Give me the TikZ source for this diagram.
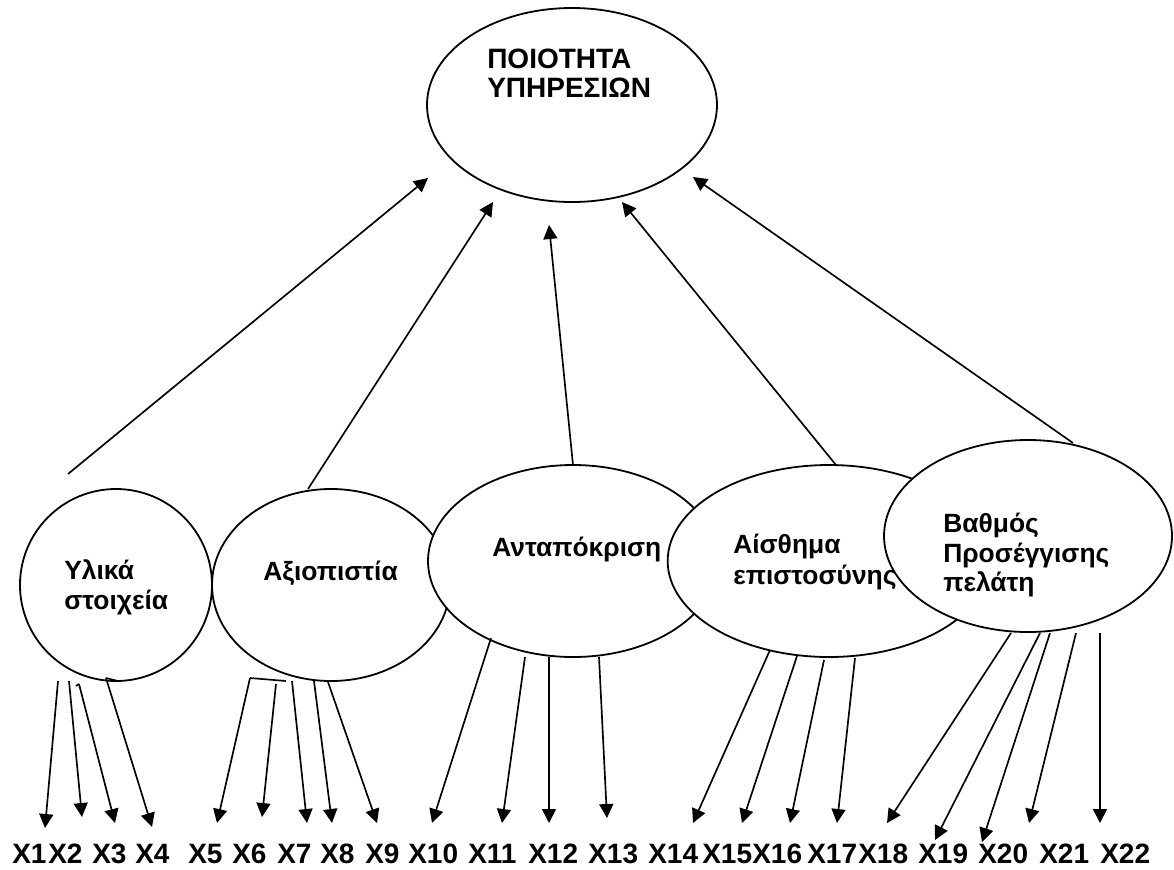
\documentclass[tikz,border=0pt]{standalone}
\usepackage{fontspec}
\setmainfont{Liberation Sans}
\usetikzlibrary{arrows.meta,shapes.geometric}
\begin{document}
\begin{tikzpicture}[x=0.75pt,y=-0.75pt,
  ell/.style={draw, ellipse, line width=1.35pt, fill=white, inner sep=0pt},
  txt/.style={font=\fontsize{19.8}{23}\selectfont\bfseries, anchor=base west, inner sep=0pt},
  bigtxt/.style={font=\fontsize{21}{25}\selectfont\bfseries, anchor=base west, inner sep=0pt},
  lab/.style={font=\fontsize{21}{25}\selectfont\bfseries, anchor=base west, inner sep=0pt},
  arr/.style={-{Triangle[length=10.5pt,width=10.5pt]}, line width=1.25pt},
  arrc/.style={line width=1.25pt}]
\useasboundingbox (0,0) rectangle (1174,869);

% ellipses
\node[ell, minimum width=217.5pt, minimum height=145.5pt] (top) at (572,105) {};
\node[ell, minimum width=144pt, minimum height=144pt] (e1) at (116,585) {};
\node[ell, minimum width=178.5pt, minimum height=144pt] (e2) at (331,585) {};
\node[ell, minimum width=217.5pt, minimum height=144pt] (e3) at (573,561) {};
\node[ell, minimum width=242pt, minimum height=144pt] (e4) at (829,561) {};
\node[ell, minimum width=216pt, minimum height=144pt] (e5) at (1028,536) {};

% texts
\node[bigtxt] (t0a) at (487,68) {ΠΟΙΟΤΗΤΑ};
\node[bigtxt] (t0b) at (487,97) {ΥΠΗΡΕΣΙΩΝ};
\node[txt] (t1a) at (64,579) {Υλικά};
\node[txt] (t1b) at (64,609) {στοιχεία};
\node[txt] (t2) at (263,580) {Αξιοπιστία};
\node[txt] (t3) at (492,556) {Ανταπόκριση};
\node[txt] (t4a) at (733,553) {Αίσθημα};
\node[txt] (t4b) at (733,584) {επιστοσύνης};
\node[txt] (t5a) at (943,532) {Βαθμός};
\node[txt] (t5b) at (943,562) {Προσέγγισης};
\node[txt] (t5c) at (943,591) {πελάτη};

% labels
\foreach \i/\x in {1/12,2/48,3/92,4/135,5/188,6/232,7/277,8/320,9/365,10/408,11/468,12/528,13/588,14/648,15/702,16/752,17/807,18/858,19/918,20/978,21/1039,22/1100}
  \node[lab] (x\i) at (\x,863) {X\i};

% upward connectors
\coordinate (u1s) at (68,474);   \coordinate (u1e) at (428,178);
\coordinate (u2s) at (308,489);  \coordinate (u2e) at (493,202);
\coordinate (u3s) at (573,465);  \coordinate (u3e) at (549,225);
\coordinate (u4s) at (836,465);  \coordinate (u4e) at (622,202);
\coordinate (u5s) at (1073,443); \coordinate (u5e) at (693,177);
\foreach \k in {1,...,5} \draw[arr] (u\k s) -- (u\k e);

% downward connectors
\foreach \k/\sx/\sy/\ex/\ey in {
  1/58/681/45/828, 2/69/681/82/817, 3/79/684/115/823, 4/106/678/152/827,
  5/250/678/217/823, 6/276/684/262/817, 7/292/681/307/823, 8/314/681/332/823,
  9/328/682/377/823, 10/491/638/432/823, 11/525/657/502/823, 12/549/657/549/823,
  13/599/657/607/818, 14/770/650/693/823, 15/797/656/742/823, 16/824/660/790/823,
  17/855/658/837/823, 18/1011/633/887/823, 19/1040/633/935/840, 20/1050/633/982/842,
  21/1076/633/1029/823, 22/1100/633/1100/823}
{
  \coordinate (d\k s) at (\sx,\sy);
  \coordinate (d\k e) at (\ex,\ey);
  \draw[arr] (d\k s) -- (d\k e);
}
% small stubs at the arrow starts
\coordinate (h3) at (76,686);
\coordinate (h4) at (118,681);
\coordinate (h5) at (286,681);
\draw[arrc] (h3) -- (d3s);
\draw[arrc] (h4) -- (d4s);
\draw[arrc] (h5) -- (d5s);
\end{tikzpicture}
\end{document}
